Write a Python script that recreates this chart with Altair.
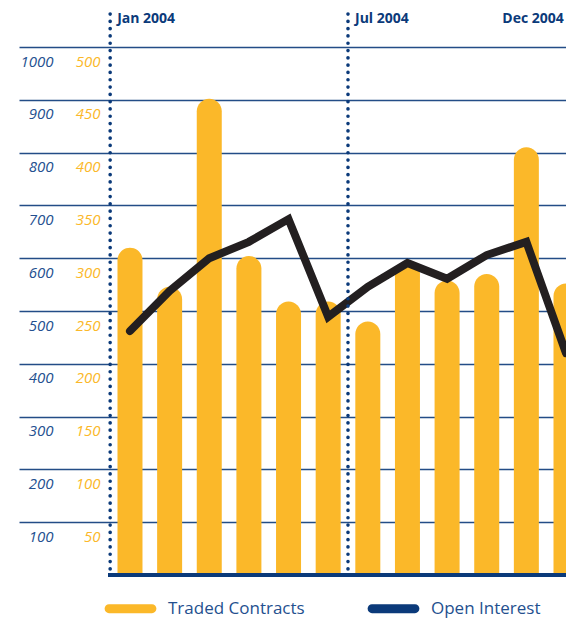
import altair as alt
import pandas as pd

months = ["Jan", "Feb", "Mar", "Apr", "May", "Jun", "Jul", "Aug", "Sep", "Oct", "Nov", "Dec"]
month_index = list(range(1, 13))
traded_contracts = [310, 273, 451, 302, 259, 259, 240, 297, 279, 285, 405, 276]
open_interest = [462, 538, 600, 631, 674, 489, 546, 591, 561, 606, 631, 420]
oi_ticks = [100, 200, 300, 400, 500, 600, 700, 800, 900, 1000]
tc_ticks = [50, 100, 150, 200, 250, 300, 350, 400, 450, 500]
marker_pos = [0.5, 6.5, 12.5]
marker_labels = ["Jan 2004", "Jul 2004", "Dec 2004"]
marker_align = ["left", "left", "right"]
series_names = ["Traded Contracts", "Open Interest"]

ORANGE = "#fbb829"
NAVY = "#0b3a7a"
BLUE = "#24508f"
BLACK = "#231f20"

df = pd.DataFrame({
    "m": month_index,
    "month": months,
    "tc": traded_contracts,
    "oi": open_interest,
})
marks = pd.DataFrame({"m": marker_pos, "label": marker_labels, "align": marker_align})
legend_df = pd.DataFrame({"series": series_names})

W, H = 547, 528
xscale = alt.Scale(domain=[-1.8, 12.0], nice=False, zero=False, padding=0)
x = alt.X("m:Q", scale=xscale, axis=None)
oi_scale = alt.Scale(domain=[0, 1000], nice=False)

stadium = ("M -0.785,-0.16 L 0.785,-0.16 A 0.16,0.16 0 0 1 0.785,0.16 "
           "L -0.785,0.16 A 0.16,0.16 0 0 1 -0.785,-0.16 Z")

line = alt.Chart(df).mark_line(color=BLACK, strokeWidth=8, strokeCap="round",
                               strokeJoin="miter").encode(
    x=x,
    y=alt.Y("oi:Q", scale=oi_scale,
            axis=alt.Axis(values=oi_ticks, title=None, orient="left", offset=-34,
                          ticks=False, domain=False, labelPadding=0, format="d",
                          labelColor=BLUE, labelFont="Open Sans", labelFontStyle="italic",
                          labelFontSize=15, labelBaseline="middle", labelOffset=14,
                          grid=True, gridColor=NAVY, gridWidth=1.3, gridOpacity=0.9)),
)

baseline = alt.Chart(df).mark_rule(color=NAVY, strokeWidth=4).encode(
    x=alt.datum(0.45),
    x2=alt.datum(12.5),
    y=alt.datum(0),
)

dotted = alt.Chart(marks).mark_rule(color=NAVY, strokeWidth=3.6, strokeDash=[0.1, 7.2],
                                    strokeCap="round").encode(
    x=alt.X("m:Q"),
    y=alt.value(-33),
    y2=alt.value(H),
)

labels_left = alt.Chart(marks).transform_filter("datum.align == 'left'").mark_text(
    align="left", baseline="middle", dx=7, font="Open Sans", fontWeight="bold",
    fontSize=14, color=NAVY).encode(
    x=alt.X("m:Q"), y=alt.value(-28), text="label:N")
labels_right = alt.Chart(marks).transform_filter("datum.align == 'right'").mark_text(
    align="right", baseline="middle", dx=-22, font="Open Sans", fontWeight="bold",
    fontSize=14, color=NAVY).encode(
    x=alt.X("m:Q"), y=alt.value(-28), text="label:N")

legend_layer = alt.Chart(legend_df).mark_point(opacity=0, filled=True).encode(
    color=alt.Color("series:N", scale=alt.Scale(domain=series_names, range=[ORANGE, NAVY]),
                    legend=alt.Legend(title=None, orient="none", direction="horizontal",
                                      legendX=84, legendY=534, symbolType=stadium,
                                      symbolSize=3000, symbolStrokeWidth=0,
                                      labelFont="Open Sans", labelFontSize=17,
                                      labelColor=BLUE, labelOffset=10, columnPadding=61,
                                      symbolOpacity=1)),
)

bars = alt.Chart(df).mark_bar(width=25, cornerRadiusTopLeft=12.5, cornerRadiusTopRight=12.5,
                              color=ORANGE).encode(
    x=x,
    y=alt.Y("tc:Q", stack=None, scale=alt.Scale(domain=[0, 500], nice=False),
            axis=alt.Axis(values=tc_ticks, title=None, orient="left", offset=-81,
                          ticks=False, domain=False, labelPadding=0, grid=False,
                          labelColor=ORANGE, labelFont="Open Sans", labelFontStyle="italic",
                          labelFontSize=15, labelBaseline="middle", labelOffset=14)),
)

blue_layer = alt.layer(line, baseline, dotted, labels_left, labels_right, legend_layer)

chart = alt.layer(bars, blue_layer).resolve_scale(y="independent").properties(
    width=W, height=H,
    autosize=alt.AutoSizeParams(type="none"),
    padding={"left": 11, "top": 39, "right": 0, "bottom": 44},
).configure_view(stroke=None)

chart.save("out.html", embed_options={"renderer": "svg", "actions": False})
